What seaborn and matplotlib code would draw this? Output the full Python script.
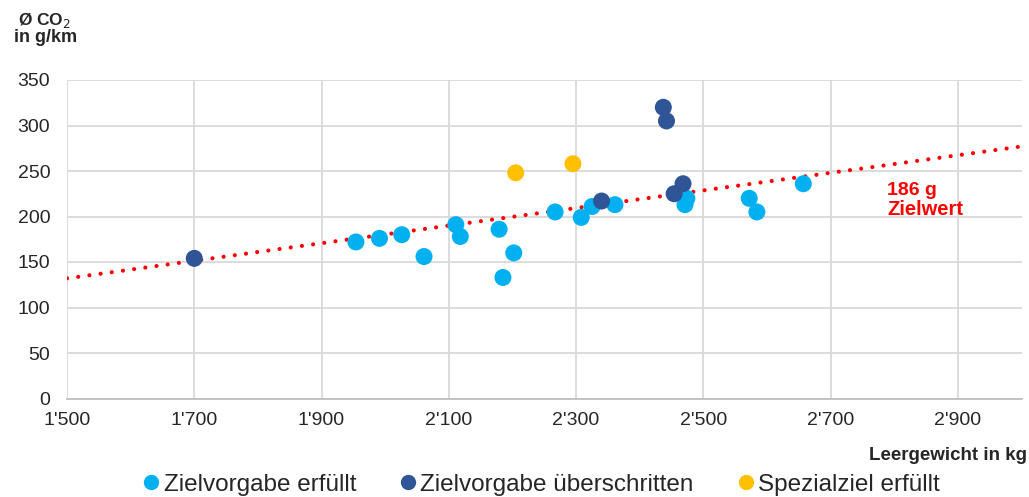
import pandas as pd
import matplotlib.pyplot as plt
import seaborn as sns
from matplotlib.lines import Line2D

# Empty weight (kg) and average CO2 (g/km) per model
ok_x = [1954, 1991, 2026, 2061, 2111, 2118, 2179, 2185, 2202, 2267, 2308, 2325,
        2361, 2474, 2471, 2572, 2584, 2657]
ok_y = [172, 176, 180, 156, 191, 178, 186, 133, 160, 205, 199, 211,
        213, 220, 213, 220, 205, 236]

over_x = [1700, 2437, 2442, 2340, 2454, 2468]
over_y = [154, 320, 305, 217, 225, 236]

special_x = [2205, 2295]
special_y = [248, 258]

groups = ["Zielvorgabe erfüllt", "Zielvorgabe überschritten", "Spezialziel erfüllt"]
colors = ["#00B0F0", "#2F5597", "#FFC000"]

# target line (Zielwert)
target_x = [1500, 3000]
target_y = [132, 277]

x_ticks = [1500, 1700, 1900, 2100, 2300, 2500, 2700, 2900]
x_labels = ["1'500", "1'700", "1'900", "2'100", "2'300", "2'500", "2'700", "2'900"]
y_ticks = [0, 50, 100, 150, 200, 250, 300, 350]


def main():
    df = pd.concat([
        pd.DataFrame({"Leergewicht": ok_x, "CO2": ok_y, "Gruppe": groups[0]}),
        pd.DataFrame({"Leergewicht": over_x, "CO2": over_y, "Gruppe": groups[1]}),
        pd.DataFrame({"Leergewicht": special_x, "CO2": special_y, "Gruppe": groups[2]}),
    ], ignore_index=True)

    sns.set_style("white")
    plt.rcParams["font.family"] = ["Liberation Sans", "DejaVu Sans"]

    fig = plt.figure(figsize=(10.29, 4.97), dpi=100)
    ax = fig.add_axes([67 / 1029, 98.5 / 497, 954.6 / 1029, 318.5 / 497])

    ax.plot(target_x, target_y, color="#FF0000", linestyle=(0, (0.01, 2.7)),
            linewidth=3.0, dash_capstyle="round", zorder=2)

    sns.scatterplot(data=df, x="Leergewicht", y="CO2", hue="Gruppe",
                    hue_order=groups, palette=colors, s=150, linewidth=0,
                    legend=False, ax=ax, zorder=3)

    ax.set_xlim(1500, 3000)
    ax.set_ylim(0, 350)
    ax.set_xticks(x_ticks)
    ax.set_xticklabels(x_labels)
    ax.set_yticks(y_ticks)
    ax.tick_params(axis="both", labelsize=14, length=0)
    ax.tick_params(axis="x", pad=10)
    ax.tick_params(axis="y", pad=12)
    ax.grid(True, color="#D9D9D9", linewidth=1.3)
    ax.set_axisbelow(True)
    for side in ["top", "right", "left"]:
        ax.spines[side].set_visible(False)
    ax.spines["bottom"].set_color("#BFBFBF")
    ax.spines["bottom"].set_linewidth(1.3)
    ax.set_xlabel("")
    ax.set_ylabel("")

    # target annotation
    ax.text(2789, 223.5, "186 g", color="#FF0000", fontsize=14,
            fontweight="bold", va="baseline", ha="left")
    ax.text(2789, 201.5, "Zielwert", color="#FF0000", fontsize=14.5,
            fontweight="bold", va="baseline", ha="left")

    # axis titles
    fig.text(45 / 1029, 1 - 25 / 497, "Ø CO$_2$", fontsize=12.5,
             fontweight="bold", ha="center", va="baseline")
    fig.text(46 / 1029, 1 - 41.5 / 497, "in g/km", fontsize=13,
             fontweight="bold", ha="center", va="baseline")
    fig.text(1027 / 1029, 1 - 456 / 497, "Leergewicht in kg", fontsize=13.5,
             fontweight="bold", ha="right", va="center")

    handles = [Line2D([], [], marker="o", linestyle="", color=c, markersize=10)
               for c in colors]
    fig.legend(handles, groups, loc="center", bbox_to_anchor=(542 / 1029, 1 - 485 / 497),
               ncol=3, frameon=False, fontsize=17.5, handletextpad=0.2,
               columnspacing=1.85, borderpad=0, handlelength=0.6)

    fig.savefig("out.png", dpi=100)


if __name__ == "__main__":
    main()
